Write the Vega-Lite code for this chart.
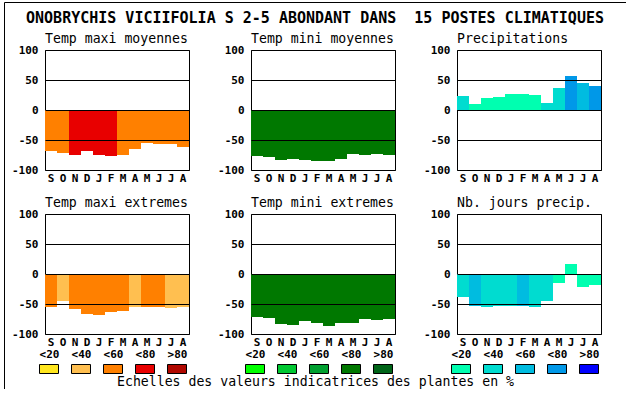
{
 "$schema": "https://vega.github.io/schema/vega-lite/v6.json",
 "padding": {"left": 4, "top": 2, "right": 0, "bottom": 0},
 "background": "white",
 "datasets": {
  "tmaxmoy": [
   {"m":1,"v":-68.3,"c":"maxi <60"},{"m":2,"v":-71.7,"c":"maxi <60"},{"m":3,"v":-75,"c":"maxi <80"},{"m":4,"v":-68.3,"c":"maxi <80"},
   {"m":5,"v":-75,"c":"maxi <80"},{"m":6,"v":-76.7,"c":"maxi <80"},{"m":7,"v":-75,"c":"maxi <60"},{"m":8,"v":-65,"c":"maxi <60"},
   {"m":9,"v":-55,"c":"maxi <60"},{"m":10,"v":-56.7,"c":"maxi <60"},{"m":11,"v":-56.7,"c":"maxi <60"},{"m":12,"v":-61.7,"c":"maxi <60"}
  ],
  "tminmoy": [
   {"m":1,"v":-76.7,"c":"mini <80"},{"m":2,"v":-78.3,"c":"mini <80"},{"m":3,"v":-83.3,"c":"mini <80"},{"m":4,"v":-81.7,"c":"mini <80"},
   {"m":5,"v":-83.3,"c":"mini <80"},{"m":6,"v":-85,"c":"mini <80"},{"m":7,"v":-85,"c":"mini <80"},{"m":8,"v":-81.7,"c":"mini <80"},
   {"m":9,"v":-73.3,"c":"mini <80"},{"m":10,"v":-75,"c":"mini <80"},{"m":11,"v":-73.3,"c":"mini <80"},{"m":12,"v":-75,"c":"mini <80"}
  ],
  "precip": [
   {"m":1,"v":23.3,"c":"precip <40"},{"m":2,"v":10,"c":"precip <20"},{"m":3,"v":20,"c":"precip <20"},{"m":4,"v":21.7,"c":"precip <20"},
   {"m":5,"v":26.7,"c":"precip <20"},{"m":6,"v":26.7,"c":"precip <20"},{"m":7,"v":25,"c":"precip <20"},{"m":8,"v":11.7,"c":"precip <40"},
   {"m":9,"v":36.7,"c":"precip <40"},{"m":10,"v":56.7,"c":"precip <80"},{"m":11,"v":45,"c":"precip <60"},{"m":12,"v":40,"c":"precip <80"}
  ],
  "tmaxext": [
   {"m":1,"v":-55,"c":"maxi <60"},{"m":2,"v":-45,"c":"maxi <40"},{"m":3,"v":-58.3,"c":"maxi <60"},{"m":4,"v":-66.7,"c":"maxi <60"},
   {"m":5,"v":-68.3,"c":"maxi <60"},{"m":6,"v":-63.3,"c":"maxi <60"},{"m":7,"v":-61.7,"c":"maxi <60"},{"m":8,"v":-55,"c":"maxi <40"},
   {"m":9,"v":-55,"c":"maxi <60"},{"m":10,"v":-55,"c":"maxi <60"},{"m":11,"v":-56.7,"c":"maxi <40"},{"m":12,"v":-55,"c":"maxi <40"}
  ],
  "tminext": [
   {"m":1,"v":-71.7,"c":"mini <80"},{"m":2,"v":-73.3,"c":"mini <80"},{"m":3,"v":-83.3,"c":"mini <80"},{"m":4,"v":-85,"c":"mini <80"},
   {"m":5,"v":-78.3,"c":"mini <80"},{"m":6,"v":-81.7,"c":"mini <80"},{"m":7,"v":-86.7,"c":"mini <80"},{"m":8,"v":-81.7,"c":"mini <80"},
   {"m":9,"v":-81.7,"c":"mini <80"},{"m":10,"v":-75,"c":"mini <80"},{"m":11,"v":-76.7,"c":"mini <80"},{"m":12,"v":-75,"c":"mini <80"}
  ],
  "jours": [
   {"m":1,"v":-38.3,"c":"precip <40"},{"m":2,"v":-53.3,"c":"precip <60"},{"m":3,"v":-55,"c":"precip <40"},{"m":4,"v":-53.3,"c":"precip <40"},
   {"m":5,"v":-53.3,"c":"precip <40"},{"m":6,"v":-53.3,"c":"precip <60"},{"m":7,"v":-55,"c":"precip <40"},{"m":8,"v":-45,"c":"precip <40"},
   {"m":9,"v":-15,"c":"precip <20"},{"m":10,"v":16.7,"c":"precip <20"},{"m":11,"v":-21.7,"c":"precip <20"},{"m":12,"v":-18.3,"c":"precip <20"}
  ],
  "legmaxi": [{"c":"maxi <20"},{"c":"maxi <40"},{"c":"maxi <60"},{"c":"maxi <80"},{"c":"maxi >80"}],
  "legmini": [{"c":"mini <20"},{"c":"mini <40"},{"c":"mini <60"},{"c":"mini <80"},{"c":"mini >80"}],
  "legprecip": [{"c":"precip <20"},{"c":"precip <40"},{"c":"precip <60"},{"c":"precip <80"},{"c":"precip >80"}]
 },
 "config": {
  "font": "DejaVu Sans Mono",
  "view": {"stroke": "black", "strokeWidth": 1, "strokeOpacity": 1},
  "axis": {"labelFont": "DejaVu Sans Mono", "labelFontWeight": "bold", "labelFontSize": 11, "labelColor": "black", "ticks": false, "domain": false, "domainColor": "black", "domainOpacity": 1, "domainWidth": 1},
  "title": {"font": "DejaVu Sans Mono", "fontSize": 13.2, "fontWeight": "normal", "color": "black", "anchor": "start", "frame": "group", "baseline": "alphabetic", "offset": -2}
 },
 "bounds": "flush",
 "spacing": 0,
 "hconcat": [
  {
   "width": 41, "height": 387, "view": {"stroke": null},
   "title": {"text": "ONOBRYCHIS VICIIFOLIA S 2-5 ABONDANT DANS \u00a015 POSTES CLIMATIQUES", "anchor": "middle", "frame": "bounds", "fontSize": 15, "fontWeight": "bold", "offset": -24},
   "data": {"values": [{"a": 0.5}]},
   "resolve": {"scale": {"x": "independent", "y": "independent"}, "axis": {"x": "independent", "y": "independent"}},
   "layer": [
    {"mark": {"type": "point", "opacity": 0, "size": 1},
     "encoding": {
      "x": {"field": "a", "type": "quantitative", "scale": {"domain": [0, 1], "rangeMax": 622}, "axis": {"orient": "top", "domain": true, "labels": false, "grid": false, "title": null}},
      "y": {"field": "a", "type": "quantitative", "scale": {"domain": [0, 1]}, "axis": {"orient": "left", "domain": true, "labels": false, "grid": false, "title": null}}
     }},
    {"mark": {"type": "point", "opacity": 0, "size": 1},
     "encoding": {
      "x": {"field": "a", "type": "quantitative", "scale": {"domain": [0, 1], "rangeMax": 622}, "axis": {"orient": "bottom", "domain": true, "labels": false, "grid": false, "title": "Echelles des valeurs indicatrices des plantes en %", "titleFont": "DejaVu Sans Mono", "titleFontSize": 13.2, "titleFontWeight": "normal", "titleColor": "black", "titleBaseline": "alphabetic", "titleY": -3.5}},
      "y": {"field": "a", "type": "quantitative", "scale": {"domain": [0, 1]}, "axis": {"orient": "right", "offset": 581, "domain": true, "labels": false, "grid": false, "title": null}}
     }}
   ]
  },
  {
   "bounds": "flush", "spacing": 44,
   "vconcat": [
    {"width": 1, "height": 4, "view": {"stroke": null}, "data": {"values": []}, "mark": "point", "encoding": {}},
    {
     "bounds": "flush", "columns": 3, "spacing": {"row": 44, "column": 62},
     "concat": [
      {"width": 144, "height": 120, "title": "Temp maxi moyennes", "data": {"name": "tmaxmoy"}, "mark": "bar",
       "encoding": {
        "x": {"field": "m", "type": "ordinal", "title": null, "scale": {"paddingInner": 0, "paddingOuter": 0}, "axis": {"labelAngle": 0, "labelPadding": 2, "labelExpr": "['S','O','N','D','J','F','M','A','M','J','J','A'][datum.value-1]"}},
        "y": {"field": "v", "type": "quantitative", "title": null, "stack": null, "scale": {"domain": [-100, 100], "nice": false}, "axis": {"values": [-100, -50, 0, 50, 100], "grid": true, "gridColor": "black", "gridOpacity": 1, "labelPadding": 7, "zindex": 1, "labelExpr": "'' + datum.value"}},
        "color": {"field": "c", "type": "nominal", "legend": null, "scale": {"domain": ["maxi <20","maxi <40","maxi <60","maxi <80","maxi >80","mini <20","mini <40","mini <60","mini <80","mini >80","precip <20","precip <40","precip <60","precip <80","precip >80"], "range": ["#ffe61e","#ffbf50","#ff8000","#e80000","#b00800","#00ff00","#00c832","#00a030","#007800","#006418","#00ffb0","#00dcd0","#00bce0","#0098e8","#0000ff"]}}
       }},
      {"width": 144, "height": 120, "title": "Temp mini moyennes", "data": {"name": "tminmoy"}, "mark": "bar",
       "encoding": {
        "x": {"field": "m", "type": "ordinal", "title": null, "scale": {"paddingInner": 0, "paddingOuter": 0}, "axis": {"labelAngle": 0, "labelPadding": 2, "labelExpr": "['S','O','N','D','J','F','M','A','M','J','J','A'][datum.value-1]"}},
        "y": {"field": "v", "type": "quantitative", "title": null, "stack": null, "scale": {"domain": [-100, 100], "nice": false}, "axis": {"values": [-100, -50, 0, 50, 100], "grid": true, "gridColor": "black", "gridOpacity": 1, "labelPadding": 7, "zindex": 1, "labelExpr": "'' + datum.value"}},
        "color": {"field": "c", "type": "nominal", "legend": null, "scale": {"domain": ["maxi <20","maxi <40","maxi <60","maxi <80","maxi >80","mini <20","mini <40","mini <60","mini <80","mini >80","precip <20","precip <40","precip <60","precip <80","precip >80"], "range": ["#ffe61e","#ffbf50","#ff8000","#e80000","#b00800","#00ff00","#00c832","#00a030","#007800","#006418","#00ffb0","#00dcd0","#00bce0","#0098e8","#0000ff"]}}
       }},
      {"width": 144, "height": 120, "title": "Precipitations", "data": {"name": "precip"}, "mark": "bar",
       "encoding": {
        "x": {"field": "m", "type": "ordinal", "title": null, "scale": {"paddingInner": 0, "paddingOuter": 0}, "axis": {"labelAngle": 0, "labelPadding": 2, "labelExpr": "['S','O','N','D','J','F','M','A','M','J','J','A'][datum.value-1]"}},
        "y": {"field": "v", "type": "quantitative", "title": null, "stack": null, "scale": {"domain": [-100, 100], "nice": false}, "axis": {"values": [-100, -50, 0, 50, 100], "grid": true, "gridColor": "black", "gridOpacity": 1, "labelPadding": 7, "zindex": 1, "labelExpr": "'' + datum.value"}},
        "color": {"field": "c", "type": "nominal", "legend": null, "scale": {"domain": ["maxi <20","maxi <40","maxi <60","maxi <80","maxi >80","mini <20","mini <40","mini <60","mini <80","mini >80","precip <20","precip <40","precip <60","precip <80","precip >80"], "range": ["#ffe61e","#ffbf50","#ff8000","#e80000","#b00800","#00ff00","#00c832","#00a030","#007800","#006418","#00ffb0","#00dcd0","#00bce0","#0098e8","#0000ff"]}}
       }},
      {"width": 144, "height": 120, "title": "Temp maxi extremes", "data": {"name": "tmaxext"}, "mark": "bar",
       "encoding": {
        "x": {"field": "m", "type": "ordinal", "title": null, "scale": {"paddingInner": 0, "paddingOuter": 0}, "axis": {"labelAngle": 0, "labelPadding": 2, "labelExpr": "['S','O','N','D','J','F','M','A','M','J','J','A'][datum.value-1]"}},
        "y": {"field": "v", "type": "quantitative", "title": null, "stack": null, "scale": {"domain": [-100, 100], "nice": false}, "axis": {"values": [-100, -50, 0, 50, 100], "grid": true, "gridColor": "black", "gridOpacity": 1, "labelPadding": 7, "zindex": 1, "labelExpr": "'' + datum.value"}},
        "color": {"field": "c", "type": "nominal", "legend": null, "scale": {"domain": ["maxi <20","maxi <40","maxi <60","maxi <80","maxi >80","mini <20","mini <40","mini <60","mini <80","mini >80","precip <20","precip <40","precip <60","precip <80","precip >80"], "range": ["#ffe61e","#ffbf50","#ff8000","#e80000","#b00800","#00ff00","#00c832","#00a030","#007800","#006418","#00ffb0","#00dcd0","#00bce0","#0098e8","#0000ff"]}}
       }},
      {"width": 144, "height": 120, "title": "Temp mini extremes", "data": {"name": "tminext"}, "mark": "bar",
       "encoding": {
        "x": {"field": "m", "type": "ordinal", "title": null, "scale": {"paddingInner": 0, "paddingOuter": 0}, "axis": {"labelAngle": 0, "labelPadding": 2, "labelExpr": "['S','O','N','D','J','F','M','A','M','J','J','A'][datum.value-1]"}},
        "y": {"field": "v", "type": "quantitative", "title": null, "stack": null, "scale": {"domain": [-100, 100], "nice": false}, "axis": {"values": [-100, -50, 0, 50, 100], "grid": true, "gridColor": "black", "gridOpacity": 1, "labelPadding": 7, "zindex": 1, "labelExpr": "'' + datum.value"}},
        "color": {"field": "c", "type": "nominal", "legend": null, "scale": {"domain": ["maxi <20","maxi <40","maxi <60","maxi <80","maxi >80","mini <20","mini <40","mini <60","mini <80","mini >80","precip <20","precip <40","precip <60","precip <80","precip >80"], "range": ["#ffe61e","#ffbf50","#ff8000","#e80000","#b00800","#00ff00","#00c832","#00a030","#007800","#006418","#00ffb0","#00dcd0","#00bce0","#0098e8","#0000ff"]}}
       }},
      {"width": 144, "height": 120, "title": "Nb. jours precip.", "data": {"name": "jours"}, "mark": "bar",
       "encoding": {
        "x": {"field": "m", "type": "ordinal", "title": null, "scale": {"paddingInner": 0, "paddingOuter": 0}, "axis": {"labelAngle": 0, "labelPadding": 2, "labelExpr": "['S','O','N','D','J','F','M','A','M','J','J','A'][datum.value-1]"}},
        "y": {"field": "v", "type": "quantitative", "title": null, "stack": null, "scale": {"domain": [-100, 100], "nice": false}, "axis": {"values": [-100, -50, 0, 50, 100], "grid": true, "gridColor": "black", "gridOpacity": 1, "labelPadding": 7, "zindex": 1, "labelExpr": "'' + datum.value"}},
        "color": {"field": "c", "type": "nominal", "legend": null, "scale": {"domain": ["maxi <20","maxi <40","maxi <60","maxi <80","maxi >80","mini <20","mini <40","mini <60","mini <80","mini >80","precip <20","precip <40","precip <60","precip <80","precip >80"], "range": ["#ffe61e","#ffbf50","#ff8000","#e80000","#b00800","#00ff00","#00c832","#00a030","#007800","#006418","#00ffb0","#00dcd0","#00bce0","#0098e8","#0000ff"]}}
       }},
      {"width": 136, "height": 1, "view": {"stroke": null}, "data": {"name": "legmaxi"},
       "mark": {"type": "point", "filled": true, "opacity": 1, "shape": "M-1,-0.47368H1V0.47368H-1Z", "size": 361, "stroke": "black", "strokeWidth": 1, "yOffset": -9.5},
       "encoding": {
        "x": {"field": "c", "type": "nominal", "sort": null, "title": null, "scale": {"type": "point", "padding": 0.125}, "axis": {"orient": "top", "labelAngle": 0, "labelPadding": 21, "labelBaseline": "alphabetic", "grid": false, "labelExpr": "slice(datum.label, -3)"}},
        "color": {"field": "c", "type": "nominal", "legend": null, "scale": {"domain": ["maxi <20","maxi <40","maxi <60","maxi <80","maxi >80","mini <20","mini <40","mini <60","mini <80","mini >80","precip <20","precip <40","precip <60","precip <80","precip >80"], "range": ["#ffe61e","#ffbf50","#ff8000","#e80000","#b00800","#00ff00","#00c832","#00a030","#007800","#006418","#00ffb0","#00dcd0","#00bce0","#0098e8","#0000ff"]}}
       }},
      {"width": 136, "height": 1, "view": {"stroke": null}, "data": {"name": "legmini"},
       "mark": {"type": "point", "filled": true, "opacity": 1, "shape": "M-1,-0.47368H1V0.47368H-1Z", "size": 361, "stroke": "black", "strokeWidth": 1, "yOffset": -9.5},
       "encoding": {
        "x": {"field": "c", "type": "nominal", "sort": null, "title": null, "scale": {"type": "point", "padding": 0.125}, "axis": {"orient": "top", "labelAngle": 0, "labelPadding": 21, "labelBaseline": "alphabetic", "grid": false, "labelExpr": "slice(datum.label, -3)"}},
        "color": {"field": "c", "type": "nominal", "legend": null, "scale": {"domain": ["maxi <20","maxi <40","maxi <60","maxi <80","maxi >80","mini <20","mini <40","mini <60","mini <80","mini >80","precip <20","precip <40","precip <60","precip <80","precip >80"], "range": ["#ffe61e","#ffbf50","#ff8000","#e80000","#b00800","#00ff00","#00c832","#00a030","#007800","#006418","#00ffb0","#00dcd0","#00bce0","#0098e8","#0000ff"]}}
       }},
      {"width": 136, "height": 1, "view": {"stroke": null}, "data": {"name": "legprecip"},
       "mark": {"type": "point", "filled": true, "opacity": 1, "shape": "M-1,-0.47368H1V0.47368H-1Z", "size": 361, "stroke": "black", "strokeWidth": 1, "yOffset": -9.5},
       "encoding": {
        "x": {"field": "c", "type": "nominal", "sort": null, "title": null, "scale": {"type": "point", "padding": 0.125}, "axis": {"orient": "top", "labelAngle": 0, "labelPadding": 21, "labelBaseline": "alphabetic", "grid": false, "labelExpr": "slice(datum.label, -3)"}},
        "color": {"field": "c", "type": "nominal", "legend": null, "scale": {"domain": ["maxi <20","maxi <40","maxi <60","maxi <80","maxi >80","mini <20","mini <40","mini <60","mini <80","mini >80","precip <20","precip <40","precip <60","precip <80","precip >80"], "range": ["#ffe61e","#ffbf50","#ff8000","#e80000","#b00800","#00ff00","#00c832","#00a030","#007800","#006418","#00ffb0","#00dcd0","#00bce0","#0098e8","#0000ff"]}}
       }}
     ]
    }
   ]
  }
 ]
}
